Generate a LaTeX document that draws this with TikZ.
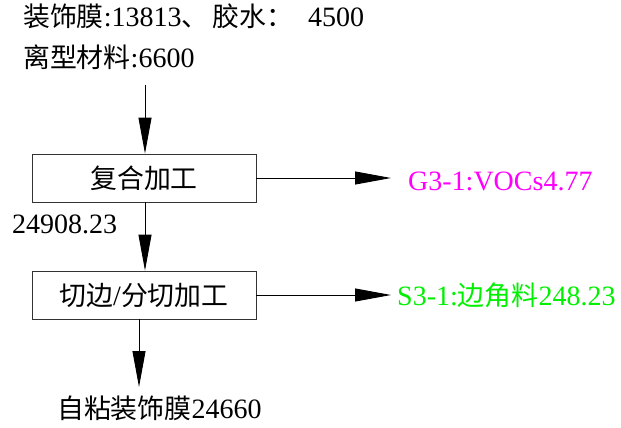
\documentclass[tikz,border=0pt]{standalone}
\usepackage{fontspec}
\setmainfont{Liberation Serif}
\newfontfamily\cjk[Scale=0.96]{Noto Sans CJK SC}
\newcommand{\zh}[1]{{\cjk #1}}
\usetikzlibrary{arrows.meta}
\definecolor{gasmag}{RGB}{255,0,255}
\definecolor{solidgrn}{RGB}{0,240,0}

\begin{document}
\begin{tikzpicture}[x=1pt,y=-1pt,
  every node/.style={font=\fontsize{28}{32}\selectfont, inner sep=0pt},
  procbox/.style={draw=black!80, line width=0.9pt, minimum width=224pt, minimum height=48pt},
  flow/.style={line width=0.9pt, -{Triangle[length=36pt,width=13pt]}},
  lbl/.style={anchor=base west}]
\useasboundingbox (0,0) rectangle (621,428);

% inputs
\node[lbl] (input1) at (23,27) {\zh{装饰膜}:13813\zh{、}\hspace{4pt}\zh{胶水：}\hspace{15pt}4500};
\node[lbl] (input2) at (23,67) {\zh{离型材料}:6600};
\coordinate (feed) at (145,85);

% process boxes
\node[procbox] (compound) at (144,178) {\zh{复合加工}};
\node[procbox] (cutting) at (144,295) {\zh{切边}/\zh{分切加工}};

% outputs
\node[lbl] (mid) at (12,233) {24908.23};
\node[lbl, text=gasmag] (gas) at (408,190) {G3-1:VOCs4.77};
\node[lbl, text=solidgrn] (solid) at (397,305) {S3-1:\zh{边角料}248.23};
\node[lbl] (product) at (57,418) {\zh{自粘装饰膜}24660};
\coordinate (prodend) at (139,387);

\draw[flow] (feed) -- (feed |- compound.north);
\draw[flow] (compound.south -| feed) -- (cutting.north -| feed);
\draw[flow, shorten >=17pt] (compound.east) -- (compound.east -| gas.west);
\draw[flow, shorten >=6pt] (cutting.east) -- (cutting.east -| solid.west);
\draw[flow] (cutting.south -| prodend) -- (prodend);
\end{tikzpicture}
\end{document}
